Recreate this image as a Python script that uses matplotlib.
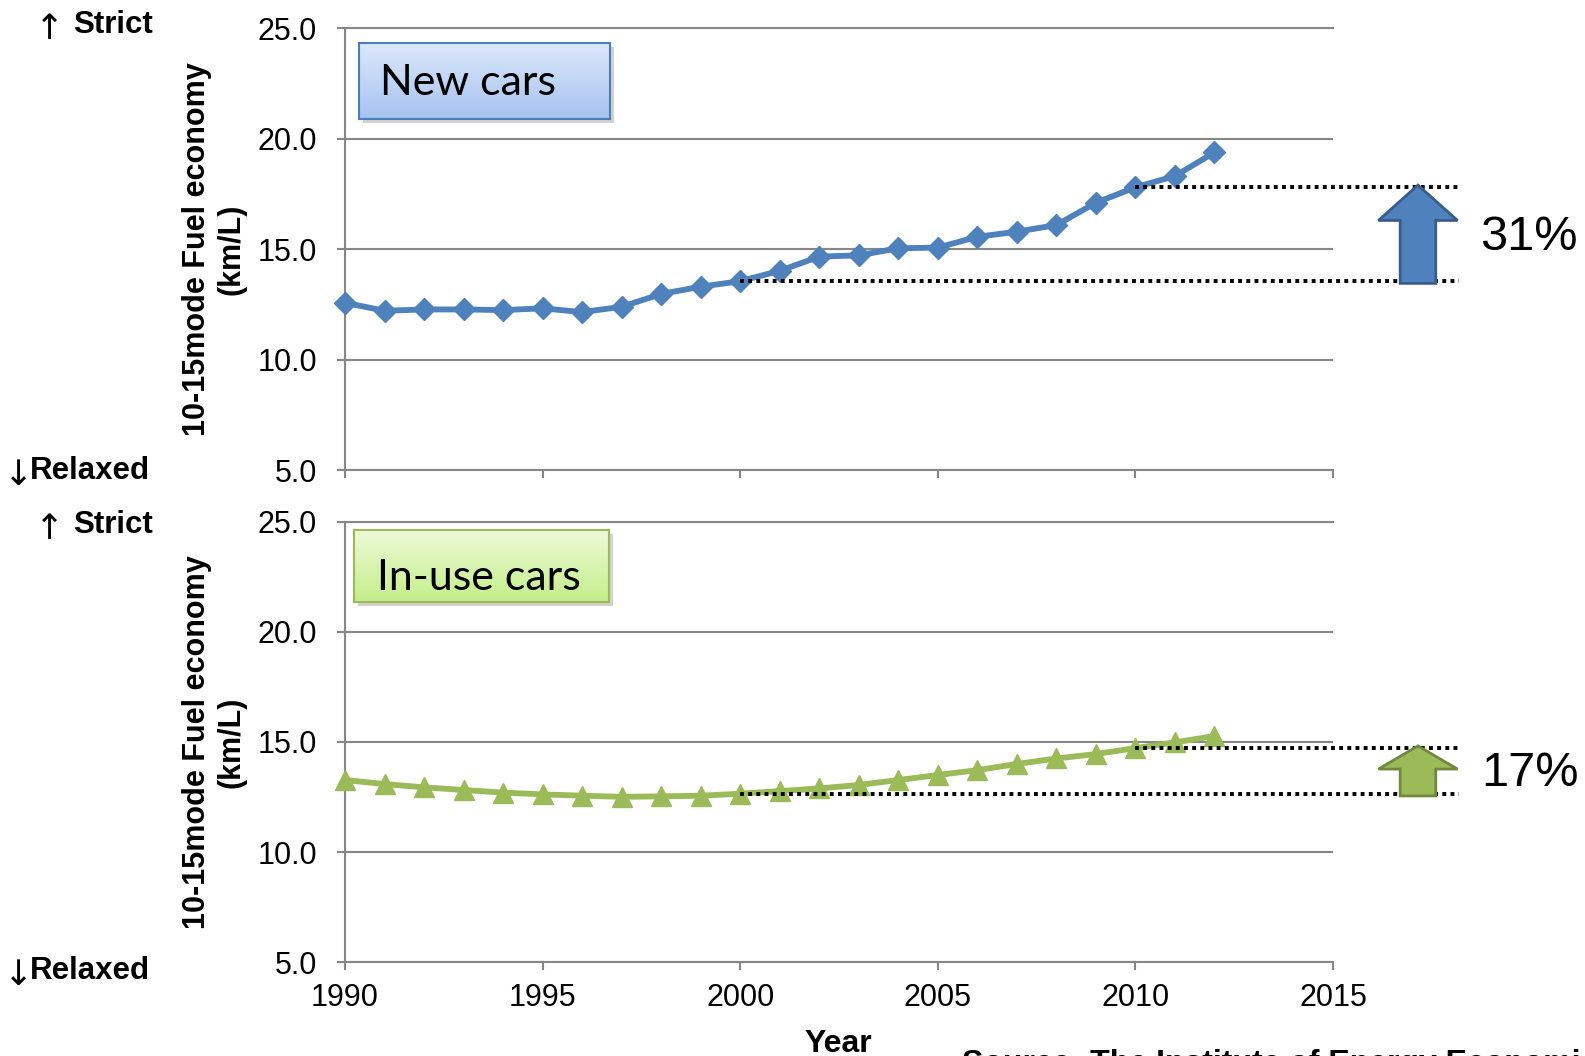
import numpy as np
import matplotlib.pyplot as plt
from matplotlib.patches import FancyArrow, Rectangle
from matplotlib.colors import LinearSegmentedColormap

plt.rcParams['font.family'] = ['Liberation Sans', 'DejaVu Sans']

years = list(range(1990, 2013))
new_cars = [12.57, 12.21, 12.27, 12.27, 12.24, 12.32, 12.15, 12.39, 12.97, 13.30,
            13.55, 14.02, 14.66, 14.72, 15.04, 15.07, 15.56, 15.79, 16.09, 17.10,
            17.80, 18.31, 19.38]
inuse_cars = [13.27, 13.09, 12.94, 12.82, 12.70, 12.62, 12.56, 12.51, 12.53, 12.56,
              12.65, 12.77, 12.89, 13.05, 13.27, 13.50, 13.72, 14.00, 14.25, 14.45,
              14.72, 14.98, 15.27]
yticks = [5.0, 10.0, 15.0, 20.0, 25.0]
xticks = [1990, 1995, 2000, 2005, 2010, 2015]
new_pct = '31%'
inuse_pct = '17%'

W, H = 1585, 1056
GRAY = '#878787'


def fx(x):
    return x / W


def fy(y):
    return 1 - y / H


fig = plt.figure(figsize=(W / 100, H / 100), dpi=100)
ax1 = fig.add_axes([fx(345), fy(470), fx(1333 - 345), (470 - 28.3) / H])
ax2 = fig.add_axes([fx(345), fy(962.3), fx(1333 - 345), (962.3 - 521.6) / H])

for ax in (ax1, ax2):
    ax.set_xlim(1990, 2015)
    ax.set_ylim(5, 25)
    ax.set_xticks(xticks)
    ax.set_yticks(yticks)
    ax.set_yticklabels(['%.1f' % v for v in yticks])
    ax.grid(axis='y', color=GRAY, lw=1.5)
    ax.set_axisbelow(True)
    ax.spines['right'].set_visible(False)
    for s in ('left', 'bottom', 'top'):
        ax.spines[s].set_color(GRAY)
        ax.spines[s].set_linewidth(1.5)
    ax.tick_params(direction='out', length=6, width=1.5, color=GRAY,
                   labelsize=22, pad=14)
    ax.tick_params(axis='x', pad=9)
ax1.tick_params(axis='x', labelbottom=False)

# series
ax1.plot(years, new_cars, color='#4F81BD', lw=4.2, marker='D', ms=11.5,
         clip_on=False, zorder=3)
ax2.plot(years, inuse_cars, color='#9BBB59', lw=4.2, marker='^', ms=15,
         clip_on=False, zorder=3)


def change_marker(ax, values, fc, ec, head_len):
    lo = values[years.index(2000)]
    hi = values[years.index(2010)]
    for x0, v in ((2000, lo), (2010, hi)):
        ax.plot([x0, 2018.2], [v, v], color='black', lw=2.8,
                ls=(0, (1, 1.1)), clip_on=False, zorder=4)
    arr = FancyArrow(2017.15, lo - 0.1, 0, hi - lo + 0.2, width=0.9,
                     head_width=2.0, head_length=head_len,
                     length_includes_head=True, fc=fc, ec=ec, lw=2,
                     clip_on=False, zorder=5)
    ax.add_patch(arr)


change_marker(ax1, new_cars, '#4F81BD', '#385D8A', 1.6)
change_marker(ax2, inuse_cars, '#9BBB59', '#71893F', 1.05)

fig.text(fx(1480), fy(250), new_pct, fontsize=35, va='baseline')
fig.text(fx(1481), fy(786), inuse_pct, fontsize=35, va='baseline')


def label_box(x0, y0, x1, y1, c_top, c_bot, edge, text, tx, base):
    shadow = Rectangle((fx(x0 + 4), fy(y1 + 4)), fx(x1 - x0), (y1 - y0) / H,
                       transform=fig.transFigure, color='black', alpha=0.18,
                       lw=0, zorder=1)
    fig.patches.append(shadow)
    bax = fig.add_axes([fx(x0), fy(y1), fx(x1 - x0), (y1 - y0) / H], zorder=6)
    grad = np.linspace(0, 1, 64)[:, None]
    cmap = LinearSegmentedColormap.from_list('box', [c_top, c_bot])
    bax.imshow(grad, aspect='auto', cmap=cmap, extent=[0, 1, 0, 1],
               origin='upper')
    bax.set_xticks([])
    bax.set_yticks([])
    for s in bax.spines.values():
        s.set_color(edge)
        s.set_linewidth(1.5)
    bax.text(tx, base, text, fontsize=31, family='Lato', ha='left',
             va='baseline', transform=bax.transAxes)


label_box(359, 43, 610, 119, '#dde8fa', '#a6c3f0', '#4A7EBB', 'New cars',
          0.084, 0.316)
label_box(354, 530, 609, 602, '#eefad8', '#c4ee8a', '#9BBB59', 'In-use cars',
          0.089, 0.167)

# axis titles
ylab = '10-15mode Fuel economy\n(km/L)'
for yc in (249, 742):
    fig.text(fx(214), fy(yc), ylab, rotation=90, ha='center', va='center',
             fontsize=22, fontweight='bold', multialignment='center',
             linespacing=1.2)

# direction hints next to the y axes
for y_str, y_rel in ((33, 479), (533, 979)):
    fig.text(fx(64), fy(y_str + 6), '\u2191', family='DejaVu Sans',
             ha='right', va='baseline', fontsize=25)
    fig.text(fx(153), fy(y_str), 'Strict', ha='right', va='baseline',
             fontsize=22.5, fontweight='bold')
    fig.text(fx(33), fy(y_rel + 6), '\u2193', family='DejaVu Sans',
             ha='right', va='baseline', fontsize=25)
    fig.text(fx(150), fy(y_rel), 'Relaxed', ha='right', va='baseline',
             fontsize=22.5, fontweight='bold')

fig.text(fx(838), fy(1052), 'Year', ha='center', va='baseline',
         fontsize=23, fontweight='bold')
fig.text(fx(962), fy(1049), 'Source: The Institute of Energy Economics, Japan',
         ha='left', va='top', fontsize=23, fontweight='bold')

fig.savefig('out.png', dpi=100)
